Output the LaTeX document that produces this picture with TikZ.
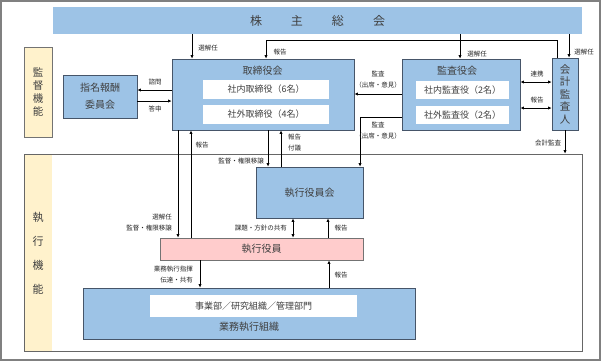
\documentclass[tikz,border=0pt]{standalone}
\usepackage{fontspec}
\setmainfont{Noto Sans CJK JP}
\usetikzlibrary{arrows.meta}
\definecolor{boxblue}{RGB}{157,195,230}
\definecolor{boxedge}{RGB}{70,85,105}
\definecolor{execpink}{RGB}{255,204,204}
\definecolor{bandyellow}{RGB}{255,242,204}
\definecolor{txtgray}{RGB}{64,64,64}
\begin{document}
\begin{tikzpicture}[x=1pt, y=-1pt,
  every node/.style={inner sep=0pt, text=txtgray},
  bluebox/.style={draw=boxedge, fill=boxblue, line width=0.8pt},
  whitebox/.style={fill=white},
  bigtxt/.style={font=\fontsize{10}{12}\selectfont},
  midtxt/.style={font=\fontsize{9}{11}\selectfont},
  lbl/.style={font=\fontsize{6.5}{11}\selectfont, text=black!85},
  conn/.style={line width=1pt, -{Latex[length=3.5pt,width=3.4pt]}},
  twoway/.style={line width=1pt, {Latex[length=3.5pt,width=3.4pt]}-{Latex[length=3.5pt,width=3.4pt]}}]
\useasboundingbox (0,0) rectangle (613,362);
\draw[black!50, line width=1.2pt] (1,1) rectangle (600,360);

\node[fill=boxblue, minimum width=529pt, minimum height=27pt, font=\fontsize{12}{14}\selectfont] (soukai) at (317.5,20.5) {株\hspace{29pt}主\hspace{29pt}総\hspace{29pt}会};

\node[draw=black!55, fill=bandyellow, line width=0.8pt, minimum width=28pt, minimum height=90pt, align=center, font=\fontsize{10.5}{13}\selectfont] (kantoku) at (38,92) {監\\督\\機\\能};
\node[bluebox, minimum width=74pt, minimum height=43pt, align=center, font=\fontsize{10}{17}\selectfont] (shimei) at (100,96.5) {指名報酬\\委員会};

\node[bluebox, minimum width=182pt, minimum height=71pt] (torishimari) at (263,94.5) {};
\node[bigtxt] (torititle) at (262.5,71) {取締役会};
\node[whitebox, midtxt, minimum width=126pt, minimum height=19pt] (shanai) at (266,89.5) {社内取締役（6名）};
\node[whitebox, midtxt, minimum width=126pt, minimum height=19pt] (shagai) at (266,114.5) {社外取締役（4名）};

\node[bluebox, minimum width=118pt, minimum height=71pt] (kansa) at (461,94.5) {};
\node[bigtxt] (kansatitle) at (457,71) {監査役会};
\node[whitebox, midtxt, minimum width=93pt, minimum height=18pt] (kansanai) at (462.5,90) {社内監査役（2名）};
\node[whitebox, midtxt, minimum width=93pt, minimum height=18pt] (kansagai) at (462.5,115) {社外監査役（2名）};

\node[bluebox, minimum width=26pt, minimum height=72pt, align=center, font=\fontsize{10.5}{12.5}\selectfont] (kaikei) at (565,94) {会\\計\\監\\査\\人};

\node[fill=bandyellow, minimum width=28pt, minimum height=196pt, align=center, font=\fontsize{11}{24}\selectfont] (shikkoustrip) at (38,253) {執\\行\\機\\能};
\node[draw=black!60, line width=0.8pt, minimum width=558pt, minimum height=197pt] (shikkou) at (303,252.5) {};

\node[bluebox, bigtxt, minimum width=107pt, minimum height=51pt] (yakuinkai) at (309.5,192.5) {執行役員会};
\node[draw=black!55, fill=execpink, line width=0.8pt, bigtxt, minimum width=203pt, minimum height=22pt] (yakuin) at (261.5,249) {執行役員};

\node[bluebox, minimum width=332pt, minimum height=51pt] (gyomu) at (249,313.5) {};
\node[whitebox, midtxt, minimum width=207pt, minimum height=22pt] (bumon) at (253.5,306) {事業部／研究組織／管理部門};
\node[bigtxt] (gyomutitle) at (249,327) {業務執行組織};

\draw[conn] (soukai.south -| 192,0) -- (torishimari.north -| 192,0);
\draw[conn] (kaikei.north -| 557,0) -- ++(0,-17) -| (torishimari.north -| 266,0);
\draw[conn] (soukai.south -| 460,0) -- (kansa.north -| 460,0);
\draw[conn] (soukai.south -| 569,0) -- (kaikei.north -| 569,0);
\draw[conn] (torishimari.west |- 0,90) -- (shimei.east |- 0,90);
\draw[conn] (shimei.east |- 0,101) -- (torishimari.west |- 0,101);
\draw[conn] (kansa.west |- 0,94) -- (torishimari.east |- 0,94);
\draw[conn] (kansa.west |- 0,117) -| (yakuinkai.north -| 360,0);
\draw[twoway] (kansa.east |- 0,82) -- (kaikei.west |- 0,82);
\draw[twoway] (kansa.east |- 0,108) -- (kaikei.west |- 0,108);
\draw[conn] (kaikei.south -| 565,0) -- (shikkou.north -| 565,0);
\draw[conn] (torishimari.south -| 178,0) -- (yakuin.north -| 178,0);
\draw[conn] (yakuin.north -| 191,0) -- (torishimari.south -| 191,0);
\draw[conn] (torishimari.south -| 268,0) -- (yakuinkai.north -| 268,0);
\draw[conn] (yakuinkai.north -| 281,0) -- (torishimari.south -| 281,0);
\draw[twoway] (yakuinkai.south -| 293,0) -- (yakuin.north -| 293,0);
\draw[conn] (yakuin.north -| 328,0) -- (yakuinkai.south -| 328,0);
\draw[conn] (yakuin.south -| 200,0) -- (gyomu.north -| 200,0);
\draw[conn] (gyomu.north -| 329,0) -- (yakuin.south -| 329,0);

\node[lbl] (l-sen1) at (208,48) {選解任};
\node[lbl] (l-hok1) at (280,52) {報告};
\node[lbl] (l-sen2) at (477,54) {選解任};
\node[lbl] (l-sen3) at (584,52) {選解任};
\node[lbl] (l-shimon) at (155,82) {諮問};
\node[lbl] (l-toshin) at (155,109) {答申};
\node[lbl, align=center] (l-kansa1) at (378,79.5) {監査\\（出席・意見）};
\node[lbl, align=center] (l-kansa2) at (378,130.5) {監査\\（出席・意見）};
\node[lbl] (l-renkei) at (537,74) {連携};
\node[lbl] (l-hok2) at (537,100) {報告};
\node[lbl] (l-kaikei) at (548,143) {会計監査};
\node[lbl, align=right, anchor=east] (l-sen4) at (172,222.5) {選解任\\監督・権限移譲};
\node[lbl] (l-hok3) at (202,145) {報告};
\node[lbl, anchor=east] (l-kantoku) at (264,161) {監督・権限移譲};
\node[lbl, align=left, anchor=west] (l-fugi) at (288,143) {報告\\付議};
\node[lbl, anchor=east] (l-kadai) at (287,228) {課題・方針の共有};
\node[lbl] (l-hok4) at (341,228) {報告};
\node[lbl, align=right, anchor=east] (l-shiki) at (193,274.5) {業務執行指揮\\伝達・共有};
\node[lbl] (l-hok5) at (341,275) {報告};
\end{tikzpicture}
\end{document}
